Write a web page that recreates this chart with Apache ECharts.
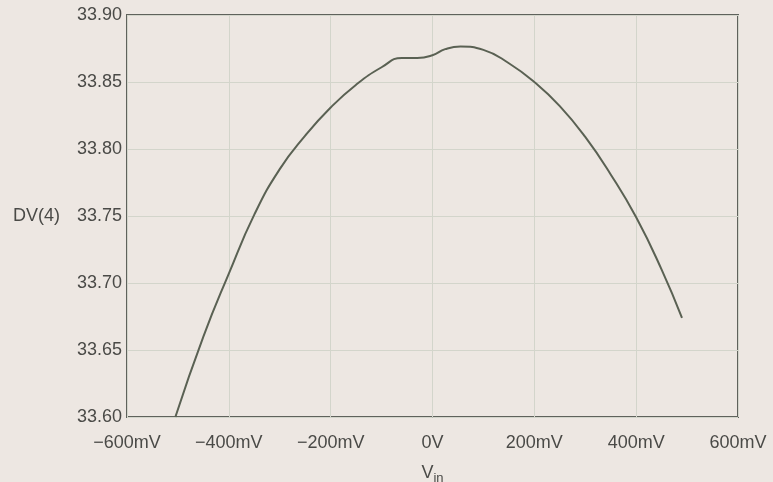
<!DOCTYPE html>
<html>
<head>
<meta charset="utf-8">
<script src="https://cdn.jsdelivr.net/npm/echarts@6/dist/echarts.min.js"></script>
<style>
    html, body {margin: 0; padding: 0; background: #ede7e2;}
    #chart {width: 773px; height: 482px;}
</style>
</head>
<body>
<div id="chart"></div>
<script>
// V_in in mV, DV(4)
const vin = [-505, -450, -400, -350, -300, -250, -200, -150, -100, -60, -30, 0, 25, 55, 100, 150, 200, 250, 300, 350, 400, 450, 490]
const dv4 = [33.600, 33.660, 33.707, 33.751, 33.785, 33.810, 33.831, 33.848, 33.861, 33.868, 33.868, 33.870, 33.8745, 33.8765, 33.874, 33.864, 33.850, 33.832, 33.809, 33.781, 33.749, 33.710, 33.674]

const x_ticks = [-600, -400, -200, 0, 200, 400, 600]

const TEXT = '#4a4a47'
const FONT = 'Liberation Sans'

const chart = echarts.init(document.getElementById('chart'))

chart.setOption({
    backgroundColor: '#ede7e2',
    animation: false,
    grid: {
        left: 127,
        right: 35,
        top: 15,
        bottom: 65,
        outerBoundsMode: 'none',
        show: true,
        borderWidth: 2,
        borderColor: '#5f625c',
        backgroundColor: 'transparent',
    },
    xAxis: {
        type: 'value',
        min: -600,
        max: 600,
        interval: 200,
        name: 'V{sub|in}',
        nameLocation: 'middle',
        nameGap: 45,
        nameTextStyle: {
            color: TEXT,
            fontFamily: FONT,
            fontSize: 18,
            rich: {
                sub: {fontSize: 13, fontFamily: FONT, color: TEXT, verticalAlign: 'bottom', padding: [10, 0, 0, 0]},
            },
        },
        axisLine: {show: false},
        axisTick: {show: false},
        axisLabel: {
            margin: 17,
            color: TEXT,
            fontFamily: FONT,
            fontSize: 18,
            formatter: v => x_ticks.includes(v) ? (v === 0 ? '0V' : (v < 0 ? '\u2212' + (-v) : v) + 'mV') : '',
        },
        splitLine: {lineStyle: {color: '#d3d5cb', width: 1}},
    },
    yAxis: {
        type: 'value',
        min: 33.60,
        max: 33.90,
        interval: 0.05,
        name: 'DV(4)',
        nameLocation: 'middle',
        nameRotate: 0,
        nameGap: 67,
        nameTextStyle: {
            color: TEXT,
            fontFamily: FONT,
            fontSize: 18,
            align: 'right',
        },
        axisLine: {show: false},
        axisTick: {show: false},
        axisLabel: {
            margin: 5,
            color: TEXT,
            fontFamily: FONT,
            fontSize: 18,
            formatter: v => v.toFixed(2),
        },
        splitLine: {lineStyle: {color: '#d3d5cb', width: 1}},
    },
    series: [
        {
            type: 'line',
            smooth: 0.5,
            showSymbol: false,
            data: vin.map((v, i) => [v, dv4[i]]),
            lineStyle: {color: '#5a6153', width: 2},
        },
    ],
})
</script>
</body>
</html>
